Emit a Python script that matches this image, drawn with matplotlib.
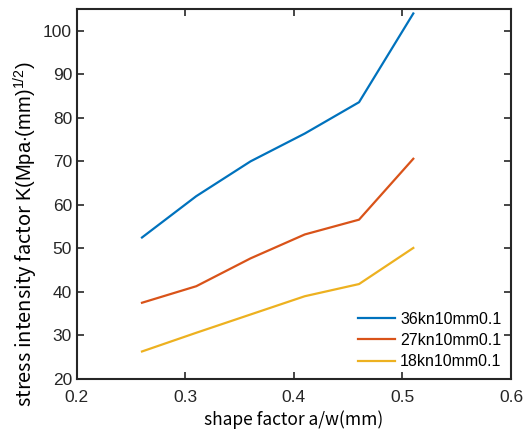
import matplotlib
matplotlib.use('Agg')
import matplotlib.pyplot as plt

plt.rcParams['font.family'] = ['Liberation Sans', 'DejaVu Sans']
plt.rcParams['mathtext.fontset'] = 'custom'
plt.rcParams['mathtext.rm'] = 'Liberation Sans'
plt.rcParams['mathtext.it'] = 'Liberation Sans'

# shape factor a/w
x = [0.26, 0.31, 0.36, 0.41, 0.46, 0.51]
# stress intensity factor for each load case
k_36kn = [52.5, 62.0, 70.0, 76.4, 83.6, 104.0]
k_27kn = [37.5, 41.3, 47.7, 53.2, 56.6, 70.6]
k_18kn = [26.3, 30.6, 34.8, 39.0, 41.8, 50.1]
labels = ['36kn10mm0.1', '27kn10mm0.1', '18kn10mm0.1']
colors = ['#0072BD', '#D95319', '#EDB120']

fig = plt.figure(figsize=(5.23, 4.34), dpi=100)
ax = fig.add_axes([0.147, 0.127, 0.830, 0.852])

for ys, lab, c in zip([k_36kn, k_27kn, k_18kn], labels, colors):
    ax.plot(x, ys, color=c, lw=1.6, label=lab)

ax.set_xlim(0.2, 0.6)
ax.set_ylim(20, 105)
ax.set_xticks([0.2, 0.3, 0.4, 0.5, 0.6])
ax.set_yticks(range(20, 101, 10))
ax.tick_params(direction='in', top=True, right=True, labelsize=12.5,
               colors='#262626', width=1.2, length=5)
ax.tick_params(axis='x', pad=8)
for s in ax.spines.values():
    s.set_linewidth(1.5)
    s.set_color('#262626')

cjk = ['Noto Sans CJK SC', 'DejaVu Sans']
ax.set_xlabel('shape factor a/w(mm)', fontsize=12.5, family=cjk, labelpad=4)
ax.set_ylabel(r'stress intensity factor $\mathrm{K(Mpa{\cdot}(mm)^{1/2})}$', fontsize=14.5, family=cjk)
ax.yaxis.set_label_coords(-0.085, 0.392)

leg = ax.legend(loc='lower right', frameon=False, fontsize=11.5, handlelength=2.3,
                handletextpad=0.3, labelspacing=0.4, borderaxespad=0.2)

fig.savefig('out.png', dpi=100)
